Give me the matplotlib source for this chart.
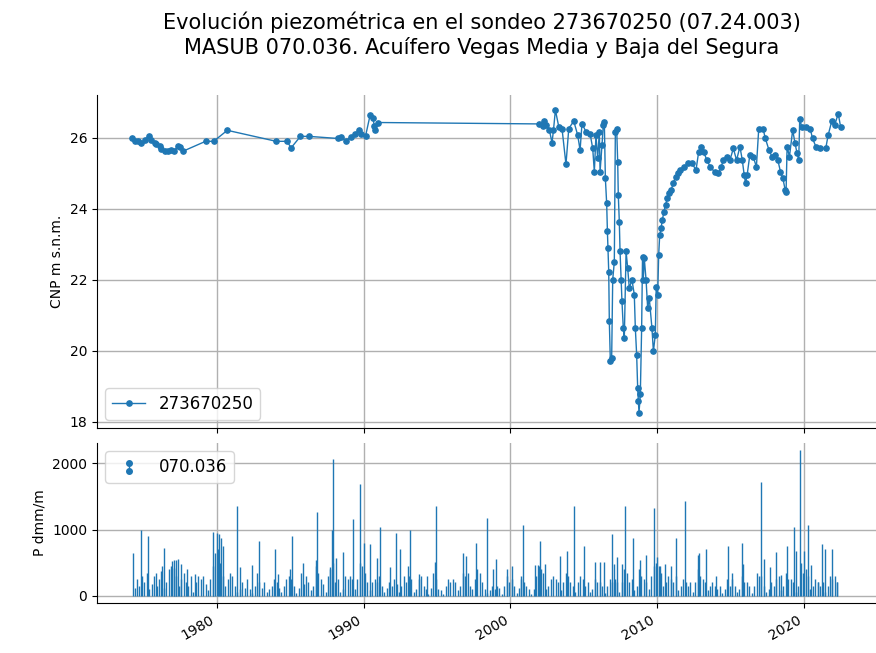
import numpy as np
import matplotlib
matplotlib.use("Agg")
import matplotlib.pyplot as plt
from matplotlib.lines import Line2D
from matplotlib.legend_handler import HandlerBase
from matplotlib.ticker import StrMethodFormatter

# ---------------- data ----------------
TITLE = ("Evolución piezométrica en el sondeo 273670250 (07.24.003)\n"
         "MASUB 070.036. Acuífero Vegas Media y Baja del Segura")
level_label = "273670250"
precip_label = "070.036"

# piezometric level (decimal year, m a.s.l.)
level_years = [
    1974.27, 1974.42, 1974.65, 1974.88, 1975.10, 1975.40, 1975.55, 1975.78, 1975.90,
    1976.12, 1976.24, 1976.46, 1976.69, 1976.90, 1977.13, 1977.37, 1977.50, 1977.71,
    1979.25, 1979.80, 1980.73, 1984.06, 1984.78, 1985.08, 1985.71, 1986.28,
    1988.25, 1988.45, 1988.78, 1989.16, 1989.40, 1989.68, 1989.84, 1990.14,
    1990.45, 1990.63, 1990.74, 1990.80, 1990.97,
    2001.97, 2002.20, 2002.31, 2002.42, 2002.65, 2002.83, 2002.93, 2003.06, 2003.29,
    2003.51, 2003.78, 2003.97, 2004.31, 2004.58, 2004.74, 2004.87, 2005.14, 2005.42,
    2005.60, 2005.71, 2005.82, 2005.94, 2006.05, 2006.10, 2006.23, 2006.32, 2006.39,
    2006.46, 2006.55, 2006.60, 2006.64, 2006.69, 2006.73, 2006.80, 2006.89, 2006.96,
    2007.07, 2007.14, 2007.23, 2007.30, 2007.34, 2007.41, 2007.46, 2007.53, 2007.59,
    2007.68, 2007.75, 2007.87, 2007.98, 2008.09, 2008.27, 2008.43, 2008.50, 2008.59,
    2008.66, 2008.71, 2008.75, 2008.84, 2008.93, 2008.99, 2009.04, 2009.11, 2009.23,
    2009.34, 2009.45, 2009.63, 2009.73, 2009.86, 2009.92, 2010.02, 2010.09, 2010.16,
    2010.25, 2010.34, 2010.45, 2010.56, 2010.67, 2010.79, 2010.94, 2011.08, 2011.24,
    2011.42, 2011.57, 2011.80, 2012.09, 2012.36, 2012.63, 2012.81, 2012.99, 2013.15,
    2013.37, 2013.60, 2013.89, 2014.16, 2014.34, 2014.49, 2014.72, 2014.94, 2015.17,
    2015.39, 2015.62, 2015.78, 2015.91, 2016.00, 2016.11, 2016.29, 2016.52, 2016.74,
    2016.90, 2017.19, 2017.35, 2017.60, 2017.80, 2018.04, 2018.20, 2018.38, 2018.54,
    2018.70, 2018.76, 2018.83, 2018.99, 2019.21, 2019.37, 2019.51, 2019.62, 2019.69,
    2019.82, 2020.11, 2020.40, 2020.56, 2020.79, 2021.08, 2021.46, 2021.62, 2021.87,
    2022.07, 2022.31, 2022.47,
]
level_values = [
    25.99, 25.92, 25.90, 25.84, 25.93, 26.05, 25.95, 25.86, 25.82,
    25.77, 25.68, 25.64, 25.62, 25.66, 25.64, 25.77, 25.73, 25.62,
    25.90, 25.90, 26.21, 25.90, 25.90, 25.72, 26.04, 26.04,
    25.98, 26.02, 25.92, 26.02, 26.10, 26.21, 26.10, 26.05,
    26.64, 26.57, 26.33, 26.21, 26.43,
    26.39, 26.32, 26.47, 26.36, 26.22, 25.86, 26.22, 26.78, 26.31,
    26.26, 25.25, 26.26, 26.47, 26.07, 25.65, 26.40, 26.17, 26.12,
    25.70, 25.04, 26.07, 25.42, 26.17, 25.04, 25.79, 26.36, 26.45,
    24.86, 24.15, 23.36, 22.89, 22.23, 20.83, 19.70, 19.80, 22.00,
    22.50, 26.17, 26.26, 25.33, 24.39, 23.64, 22.80, 22.00, 21.40,
    20.64, 20.36, 22.80, 22.33, 21.76, 22.00, 21.58, 20.64, 19.89,
    18.95, 18.58, 18.25, 18.77, 20.64, 22.65, 22.00, 22.60, 22.00,
    21.20, 21.48, 20.64, 19.98, 20.45, 21.80, 21.58, 22.70, 23.26,
    23.45, 23.69, 23.92, 24.11, 24.30, 24.43, 24.53, 24.72, 24.90,
    25.00, 25.09, 25.18, 25.28, 25.28, 25.09, 25.60, 25.75, 25.60,
    25.37, 25.18, 25.04, 25.00, 25.18, 25.37, 25.47, 25.37, 25.70,
    25.37, 25.75, 25.37, 24.95, 24.72, 24.95, 25.51, 25.47, 25.18,
    26.26, 26.26, 25.98, 25.65, 25.47, 25.51, 25.37, 25.04, 24.86,
    24.53, 24.48, 25.75, 25.47, 26.22, 25.84, 25.56, 25.37, 26.54,
    26.31, 26.31, 26.26, 25.98, 25.75, 25.70, 25.70, 26.07, 26.47,
    26.36, 26.68, 26.31,
]

# precipitation: bimonthly background values (6 per year, 1974 .. mid 2022)
precip_start_year = 1974
precip_background = [
    0, 0, 120, 250, 150, 300,        # 1974
    200, 350, 100, 180, 300, 150,    # 1975
    250, 380, 120, 200, 400, 450,    # 1976
    420, 300, 150, 250, 350, 200,    # 1977
    150, 300, 60, 200, 300, 250,     # 1978
    300, 180, 80, 250, 450, 650,     # 1979
    700, 500, 300, 150, 250, 350,    # 1980
    300, 150, 50, 100, 200, 120,     # 1981
    250, 100, 40, 150, 350, 200,     # 1982
    120, 200, 60, 100, 150, 250,     # 1983
    200, 120, 50, 150, 250, 300,     # 1984
    250, 150, 40, 120, 350, 180,     # 1985
    300, 200, 80, 150, 450, 350,     # 1986
    250, 180, 60, 300, 400, 500,     # 1987
    200, 250, 50, 100, 300, 250,     # 1988
    300, 250, 100, 250, 500, 450,    # 1989
    350, 200, 80, 200, 250, 200,     # 1990
    300, 150, 50, 120, 200, 150,     # 1991
    250, 180, 60, 150, 300, 200,     # 1992
    300, 250, 50, 100, 250, 300,     # 1993
    150, 100, 30, 120, 350, 250,     # 1994
    100, 80, 20, 150, 250, 200,      # 1995
    250, 200, 80, 150, 350, 300,     # 1996
    350, 150, 100, 250, 400, 350,    # 1997
    200, 100, 40, 80, 150, 100,      # 1998
    150, 120, 30, 150, 300, 200,     # 1999
    250, 150, 40, 120, 250, 200,     # 2000
    150, 100, 30, 100, 300, 450,     # 2001
    400, 350, 100, 150, 250, 300,    # 2002
    250, 200, 80, 200, 350, 300,     # 2003
    200, 150, 60, 200, 300, 250,     # 2004
    150, 200, 50, 100, 250, 200,     # 2005
    200, 150, 40, 150, 250, 200,     # 2006
    250, 200, 60, 200, 400, 350,     # 2007
    200, 250, 80, 150, 400, 300,     # 2008
    250, 200, 100, 300, 450, 500,    # 2009
    450, 350, 150, 200, 300, 250,    # 2010
    200, 300, 80, 150, 250, 200,     # 2011
    150, 200, 50, 200, 400, 300,     # 2012
    250, 200, 80, 150, 200, 150,     # 2013
    100, 150, 40, 100, 250, 150,     # 2014
    250, 150, 50, 100, 300, 200,     # 2015
    200, 150, 40, 150, 350, 300,     # 2016
    300, 150, 60, 100, 200, 150,     # 2017
    250, 300, 80, 150, 350, 250,     # 2018
    250, 200, 60, 150, 500, 350,     # 2019
    400, 300, 100, 150, 250, 200,    # 2020
    150, 200, 50, 150, 300, 250,     # 2021
    300, 200,                        # 2022
]

# precipitation peaks (decimal year, dmm)
peak_years = [
    1974.29, 1974.85, 1975.35, 1975.87, 1976.30, 1976.44, 1977.00, 1977.10, 1977.25,
    1977.40, 1977.55, 1978.00, 1978.50, 1979.78, 1980.05, 1980.18, 1980.30, 1980.45,
    1981.36, 1981.60, 1982.38, 1982.90, 1983.97, 1984.20, 1985.00, 1985.10, 1985.90,
    1986.75, 1986.85, 1987.70, 1987.85, 1987.94, 1988.15, 1988.60, 1989.30, 1989.75,
    1990.00, 1990.43, 1990.90, 1991.10, 1991.80, 1992.24, 1992.50, 1993.05, 1993.15,
    1993.80, 1994.30, 1994.85, 1994.92, 1996.78, 1996.95, 1997.69, 1998.40, 1998.80,
    1999.00, 1999.75, 2000.10, 2000.72, 2000.86, 2001.70, 2001.85, 2002.00, 2002.35,
    2003.37, 2003.82, 2004.30, 2005.00, 2005.75, 2006.10, 2006.40, 2006.90, 2007.05,
    2007.25, 2007.60, 2007.83, 2008.35, 2008.80, 2009.20, 2009.75, 2010.00, 2010.20,
    2010.50, 2010.90, 2011.25, 2011.90, 2012.75, 2012.85, 2013.28, 2014.00, 2014.80,
    2015.10, 2015.75, 2015.85, 2017.02, 2017.25, 2017.65, 2018.09, 2018.40, 2018.84,
    2019.28, 2019.45, 2019.69, 2019.98, 2020.23, 2020.45, 2020.90, 2021.20, 2021.40,
    2021.86, 2022.20,
]
peak_values = [
    650, 990, 900, 340, 450, 725, 520, 540, 545,
    550, 480, 410, 330, 965, 950, 930, 870, 750,
    1360, 430, 470, 820, 710, 330, 410, 900, 500,
    535, 1260, 430, 1000, 2075, 570, 660, 1160, 1690,
    800, 785, 570, 1045, 440, 944, 700, 450, 1000,
    330, 300, 510, 1360, 650, 600, 800, 1180, 400,
    557, 400, 445, 300, 1066, 470, 470, 826, 480,
    600, 670, 1360, 750, 510, 510, 510, 930, 480,
    590, 480, 1360, 870, 540, 610, 1330, 590, 450,
    480, 450, 870, 1430, 610, 650, 710, 300, 750,
    350, 800, 480, 1720, 560, 430, 660, 320, 750,
    1040, 680, 2200, 680, 1066, 470, 200, 785, 710,
    700, 200,
]

# ---------------- figure ----------------
blue = "#1f77b4"
fig = plt.figure(figsize=(8.76, 6.53), dpi=100)
ax1 = fig.add_axes([0.1107, 0.3446, 0.8893, 0.5100])
ax2 = fig.add_axes([0.1107, 0.0766, 0.8893, 0.2450], sharex=ax1)

ax1.plot(level_years, level_values, "-o", color=blue, lw=1.0, ms=3.8,
         label=level_label)

bg = np.asarray(precip_background, dtype=float)
bg_years = precip_start_year + (np.arange(bg.size) + 0.5) / 6.0
keep = bg > 0
p_years = np.concatenate([bg_years[keep], np.asarray(peak_years)])
p_vals = np.concatenate([bg[keep], np.asarray(peak_values, dtype=float)])
ax2.vlines(p_years, 0, p_vals, color=blue, lw=1.0)


class HandlerVDots(HandlerBase):
    def create_artists(self, legend, orig_handle, xdescent, ydescent,
                       width, height, fontsize, trans):
        cx = width / 2 - xdescent
        ln = Line2D([cx, cx], [0.1 * height - ydescent, 0.8 * height - ydescent],
                    color=blue, lw=1.0, marker="o", ms=4, transform=trans)
        return [ln]


precip_handle = Line2D([], [], color=blue)
ax2.legend([precip_handle], [precip_label], loc="upper left",
           handler_map={Line2D: HandlerVDots()}, fontsize=12)
ax1.legend(loc="lower left", fontsize=12)

for ax in (ax1, ax2):
    ax.spines["top"].set_visible(False)
    ax.spines["right"].set_visible(False)
    ax.grid(True, color="#b0b0b0", lw=1.0)
    ax.set_axisbelow(True)
    ax.tick_params(labelsize=10)

ax1.set_ylabel("CNP m s.n.m.", fontsize=10)
ax2.set_ylabel("P dmm/m", fontsize=10)
ax1.set_yticks([18, 20, 22, 24, 26])
ax2.set_yticks([0, 1000, 2000])
ax2.set_xticks([1980, 1990, 2000, 2010, 2020])
ax2.xaxis.set_major_formatter(StrMethodFormatter("{x:.0f}"))
plt.setp(ax1.get_xticklabels(), visible=False)
for lab in ax2.get_xticklabels():
    lab.set_rotation(30)
    lab.set_ha("right")

fig.suptitle(TITLE, x=0.55, y=0.982, fontsize=15, va="top")

fig.savefig("out.png", dpi=100)
